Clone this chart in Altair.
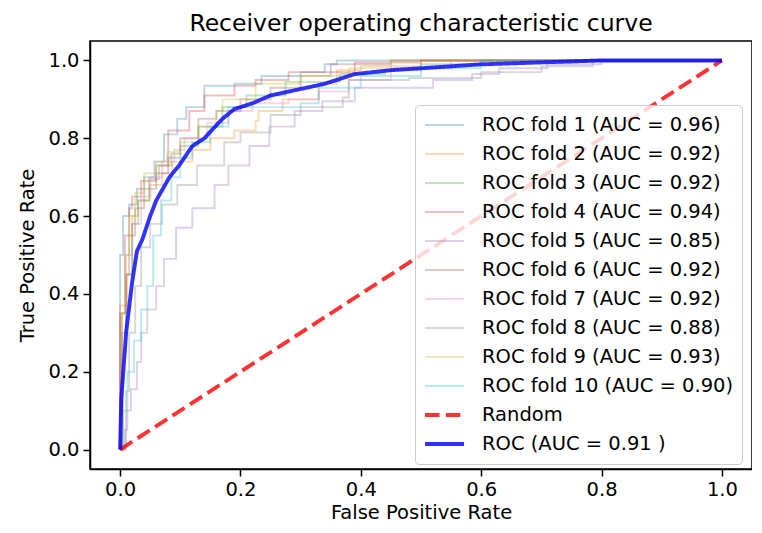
import altair as alt
import pandas as pd

fold_labels = [
    "ROC fold 1 (AUC = 0.96)", "ROC fold 2 (AUC = 0.92)", "ROC fold 3 (AUC = 0.92)",
    "ROC fold 4 (AUC = 0.94)", "ROC fold 5 (AUC = 0.85)", "ROC fold 6 (AUC = 0.92)",
    "ROC fold 7 (AUC = 0.92)", "ROC fold 8 (AUC = 0.88)", "ROC fold 9 (AUC = 0.93)",
    "ROC fold 10 (AUC = 0.90)",
]
random_label = "Random"
mean_label = "ROC (AUC = 0.91 )"

fold_fpr = [
    [0, 0.0, 0.005, 0.015, 0.028, 0.04, 0.057, 0.073, 0.095, 0.11, 0.14, 0.19, 0.235, 0.30, 0.34, 0.36, 1.0],
    [0, 0.0, 0.012, 0.02, 0.03, 0.05, 0.07, 0.087, 0.12, 0.15, 0.19, 0.225, 0.23, 0.27, 0.33, 0.36, 0.40, 0.5, 1.0],
    [0, 0.003, 0.01, 0.02, 0.03, 0.048, 0.065, 0.085, 0.10, 0.13, 0.17, 0.21, 0.275, 0.365, 0.44, 0.5, 0.6, 1.0],
    [0, 0.0, 0.008, 0.015, 0.02, 0.035, 0.06, 0.08, 0.115, 0.14, 0.19, 0.225, 0.28, 0.39, 0.5, 1.0],
    [0, 0.008, 0.012, 0.018, 0.028, 0.035, 0.045, 0.06, 0.073, 0.093, 0.12, 0.157, 0.18, 0.215, 0.248, 0.29,
     0.336, 0.39, 0.46, 0.52, 0.585, 0.63, 0.71, 0.80, 1.0],
    [0, 0.003, 0.01, 0.015, 0.025, 0.04, 0.06, 0.08, 0.10, 0.13, 0.16, 0.20, 0.25, 0.30, 0.35, 0.45, 1.0],
    [0, 0.005, 0.01, 0.02, 0.035, 0.05, 0.07, 0.09, 0.107, 0.145, 0.18, 0.22, 0.28, 0.33, 0.38, 0.45, 0.55, 1.0],
    [0, 0.01, 0.015, 0.025, 0.035, 0.05, 0.07, 0.095, 0.128, 0.173, 0.20, 0.25, 0.30, 0.37, 0.38, 0.48, 0.60,
     0.70, 0.785, 1.0],
    [0, 0.003, 0.008, 0.015, 0.025, 0.04, 0.06, 0.078, 0.10, 0.13, 0.16, 0.17, 0.225, 0.30, 0.38, 0.45, 1.0],
    [0, 0.005, 0.012, 0.023, 0.035, 0.045, 0.055, 0.068, 0.085, 0.10, 0.12, 0.15, 0.18, 0.30, 0.33, 0.40, 0.50,
     0.60, 1.0],
]
fold_tpr = [
    [0, 0.50, 0.60, 0.63, 0.67, 0.70, 0.74, 0.81, 0.85, 0.88, 0.935, 0.94, 0.96, 0.97, 0.99, 1.0, 1.0],
    [0, 0.37, 0.45, 0.60, 0.64, 0.68, 0.71, 0.74, 0.77, 0.80, 0.82, 0.845, 0.87, 0.90, 0.94, 0.975, 0.985, 1.0, 1.0],
    [0, 0.30, 0.45, 0.58, 0.64, 0.695, 0.73, 0.76, 0.78, 0.83, 0.88, 0.91, 0.945, 0.965, 0.975, 0.99, 1.0, 1.0],
    [0, 0.35, 0.55, 0.62, 0.65, 0.69, 0.73, 0.82, 0.87, 0.91, 0.935, 0.95, 0.97, 0.995, 1.0, 1.0],
    [0, 0.05, 0.10, 0.155, 0.225, 0.30, 0.36, 0.42, 0.49, 0.57, 0.62, 0.68, 0.73, 0.78, 0.83, 0.87,
     0.895, 0.93, 0.93, 0.95, 0.965, 0.98, 0.99, 1.0, 1.0],
    [0, 0.35, 0.45, 0.55, 0.62, 0.67, 0.71, 0.75, 0.80, 0.85, 0.87, 0.90, 0.93, 0.96, 0.99, 1.0, 1.0],
    [0, 0.25, 0.50, 0.58, 0.65, 0.70, 0.74, 0.77, 0.80, 0.84, 0.87, 0.89, 0.90, 0.92, 0.95, 0.98, 1.0, 1.0],
    [0, 0.15, 0.30, 0.42, 0.52, 0.58, 0.63, 0.68, 0.73, 0.79, 0.815, 0.86, 0.88, 0.905, 0.95, 0.955, 0.97,
     0.985, 1.0, 1.0],
    [0, 0.35, 0.50, 0.60, 0.66, 0.71, 0.74, 0.765, 0.79, 0.83, 0.87, 0.90, 0.94, 0.96, 0.98, 1.0, 1.0],
    [0, 0.10, 0.20, 0.28, 0.36, 0.42, 0.55, 0.64, 0.70, 0.75, 0.79, 0.83, 0.88, 0.89, 0.93, 0.96, 0.98,
     1.0, 1.0],
]

random_fpr = [0, 1]
random_tpr = [0, 1]

mean_fpr = [0, 0.002, 0.01, 0.02, 0.028, 0.037, 0.05, 0.06, 0.082, 0.098, 0.12, 0.14, 0.17, 0.19, 0.22,
            0.25, 0.28, 0.34, 0.39, 0.45, 0.50, 0.60, 0.70, 0.80, 0.90, 1.0]
mean_tpr = [0, 0.13, 0.30, 0.43, 0.51, 0.54, 0.60, 0.64, 0.70, 0.73, 0.78, 0.80, 0.85, 0.875, 0.89,
            0.91, 0.92, 0.94, 0.965, 0.975, 0.98, 0.99, 0.995, 1.0, 1.0, 1.0]

fold_colors = ["#1f77b4", "#ff7f0e", "#2ca02c", "#d62728", "#9467bd",
               "#8c564b", "#e377c2", "#7f7f7f", "#bcbd22", "#17becf"]

rows = []
for lab, xs, ys in zip(fold_labels, fold_fpr, fold_tpr):
    for i, (x, y) in enumerate(zip(xs, ys)):
        rows.append({"series": lab, "fpr": x, "tpr": y, "idx": i})
folds_df = pd.DataFrame(rows)
random_df = pd.DataFrame({"series": random_label, "fpr": random_fpr, "tpr": random_tpr,
                          "idx": list(range(len(random_fpr)))})
mean_df = pd.DataFrame({"series": mean_label, "fpr": mean_fpr, "tpr": mean_tpr,
                        "idx": list(range(len(mean_fpr)))})

domain = fold_labels + [random_label, mean_label]
colors = fold_colors + ["#ff0000", "#0000ff"]
dashes = [[1, 0]] * 10 + [[14.5, 6.3], [1, 0]]
opac = [0.3] * 10 + [0.8, 0.8]
widths = [1.95] * 10 + [3.9, 3.9]

FONT = "DejaVu Sans"

x_enc = alt.X("fpr:Q", title="False Positive Rate",
              scale=alt.Scale(domain=[-0.05, 1.05], nice=False, zero=False),
              axis=alt.Axis(values=[0, 0.2, 0.4, 0.6, 0.8, 1.0], format=".1f"))
y_enc = alt.Y("tpr:Q", title="True Positive Rate",
              scale=alt.Scale(domain=[-0.05, 1.05], nice=False, zero=False),
              axis=alt.Axis(values=[0, 0.2, 0.4, 0.6, 0.8, 1.0], format=".1f"))

legend = alt.Legend(title=None, orient="none", legendX=325, legendY=64,
                    symbolType="stroke", symbolSize=1521, clipHeight=24, rowPadding=5,
                    labelFont=FONT, labelFontSize=19.5, labelColor="black", labelOffset=16,
                    padding=8, fillColor="rgba(255,255,255,0.8)", strokeColor="#cccccc",
                    cornerRadius=4, labelLimit=400)

color_enc = alt.Color("series:N", scale=alt.Scale(domain=domain, range=colors), legend=legend)
dash_enc = alt.StrokeDash("series:N", scale=alt.Scale(type="ordinal", domain=domain, range=dashes),
                          legend=legend)
op_enc = alt.Opacity("series:N", scale=alt.Scale(type="ordinal", domain=domain, range=opac),
                     legend=legend)
w_enc = alt.StrokeWidth("series:N", scale=alt.Scale(type="ordinal", domain=domain, range=widths),
                        legend=legend)

def layer(df, interp):
    return alt.Chart(df).mark_line(interpolate=interp, clip=True).encode(
        x=x_enc, y=y_enc, color=color_enc, strokeDash=dash_enc, opacity=op_enc,
        strokeWidth=w_enc, detail="series:N", order=alt.Order("idx:Q"))

chart = alt.layer(
    layer(folds_df, "step-after"),
    layer(random_df, "linear"),
    layer(mean_df, "linear"),
).properties(
    width=662, height=428,
    title=alt.Title("Receiver operating characteristic curve", font=FONT, fontSize=23.5,
                    fontWeight="normal", color="black", offset=6),
    autosize=alt.AutoSizeParams(type="none"),
    padding={"left": 82, "top": 33, "right": 0, "bottom": 56},
).configure_view(
    stroke="black", strokeWidth=1.5,
).configure_axis(
    grid=False, domainColor="black", domainWidth=1.5, tickColor="black", tickWidth=1.5,
    tickSize=7, labelFont=FONT, labelFontSize=19.5, labelColor="black", labelPadding=4,
    titleFont=FONT, titleFontSize=19.5, titleFontWeight="normal", titleColor="black",
).configure_axisX(titlePadding=5).configure_axisY(titlePadding=10)

chart.save("out.html", embed_options={"renderer": "svg", "actions": False})
